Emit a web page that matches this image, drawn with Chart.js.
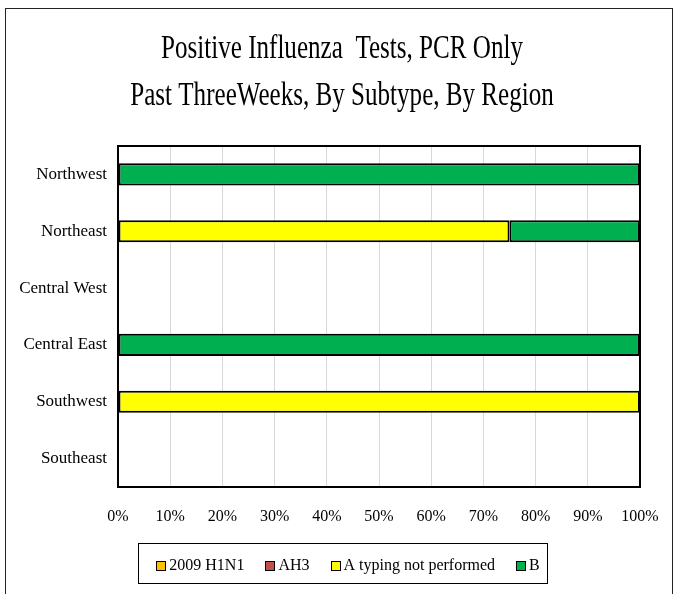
<!DOCTYPE html>
<html>
<head>
<meta charset="utf-8">
<script src="https://cdn.jsdelivr.net/npm/chart.js@4"></script>
<style>
  body { margin: 0; background: #fff; }
  #wrap { width: 673px; height: 594px; }
</style>
</head>
<body>
<div id="wrap"><canvas id="myChart" width="673" height="594"></canvas></div>
<script>
// chart data
const regions = ["Northwest", "Northeast", "Central West", "Central East", "Southwest", "Southeast"];
const h1n1 = [0, 0, 0, 0, 0, 0];
const ah3 = [0, 0, 0, 0, 0, 0];
const aNotTyped = [0, 75, 0, 0, 100, 0];
const typeB = [100, 25, 0, 100, 0, 0];
const xTicks = [0, 10, 20, 30, 40, 50, 60, 70, 80, 90, 100];
const titleLines = ["Positive Influenza  Tests, PCR Only", "Past ThreeWeeks, By Subtype, By Region"];

const serif = '"Liberation Serif", "Times New Roman", serif';

// title, frames and legend drawn by hand so they sit where the original has them
const extras = {
    id: 'extras',
    beforeDraw(chart) {
        const ctx = chart.ctx;
        ctx.save();
        ctx.fillStyle = '#fff';
        ctx.fillRect(0, 0, chart.width, chart.height);
        ctx.restore();
    },
    afterDraw(chart) {
        const ctx = chart.ctx;
        const a = chart.chartArea;
        ctx.save();

        // outer frame
        ctx.strokeStyle = '#222';
        ctx.lineWidth = 1;
        ctx.strokeRect(5.5, 8.5, 667, 600);

        // plot frame
        ctx.strokeStyle = '#000';
        ctx.lineWidth = 2;
        ctx.strokeRect(a.left, a.top, a.right - a.left, a.bottom - a.top);

        // title
        ctx.fillStyle = '#000';
        ctx.font = '33px ' + serif;
        ctx.textAlign = 'center';
        ctx.textBaseline = 'middle';
        titleLines.forEach(function (t, i) {
            ctx.save();
            ctx.translate(342, 49 + i * 47);
            ctx.scale(0.76, 1);
            ctx.fillText(t, 0, 0);
            ctx.restore();
        });

        // legend
        ctx.font = '16px ' + serif;
        ctx.textAlign = 'left';
        const box = 10, gap = 3, space = 21;
        const items = chart.data.datasets.map(function (ds) {
            return { label: ds.label, color: ds.backgroundColor, w: ctx.measureText(ds.label).width };
        });
        let total = 0;
        items.forEach(function (it, i) {
            total += box + gap + it.w + (i < items.length - 1 ? space : 0);
        });
        let x = 348 - total / 2;
        const y = 566;
        ctx.lineWidth = 1;
        ctx.strokeStyle = '#000';
        ctx.strokeRect(Math.round(x - 18) + 0.5, 543.5, Math.round(total + 26), 40);
        items.forEach(function (it) {
            ctx.fillStyle = it.color;
            ctx.fillRect(Math.round(x), y - 5, box, box);
            ctx.strokeStyle = '#000';
            ctx.strokeRect(Math.round(x) + 0.5, y - 4.5, box - 1, box - 1);
            ctx.fillStyle = '#000';
            ctx.fillText(it.label, x + box + gap, y);
            x += box + gap + it.w + space;
        });
        ctx.restore();
    }
};

function makeSet(label, data, color) {
    return {
        label: label,
        data: data,
        backgroundColor: color,
        borderColor: '#000',
        borderWidth: 2,
        borderSkipped: false,
        categoryPercentage: 1,
        barPercentage: 0.39
    };
}

new Chart(document.getElementById("myChart"), {
    type: 'bar',
    data: {
        labels: regions,
        datasets: [
            makeSet("2009 H1N1", h1n1, "#FFC000"),
            makeSet("AH3", ah3, "#C0504D"),
            makeSet("A typing not performed", aNotTyped, "#FFFF00"),
            makeSet("B", typeB, "#00B050")
        ]
    },
    options: {
        indexAxis: 'y',
        responsive: false,
        animation: false,
        layout: { padding: { left: 0, right: 33, top: 146, bottom: 0 } },
        plugins: {
            legend: { display: false },
            title: { display: false },
            tooltip: { enabled: false }
        },
        scales: {
            x: {
                stacked: true,
                min: 0,
                max: 100,
                afterBuildTicks: function (scale) {
                    scale.ticks = xTicks.map(function (v) { return { value: v }; });
                },
                afterFit: function (scale) {
                    scale.height = 107;
                    scale.paddingLeft = 0;
                    scale.paddingRight = 0;
                },
                grid: { color: '#d9d9d9', lineWidth: 1, drawTicks: false },
                border: { display: false },
                ticks: {
                    padding: 20,
                    color: '#000',
                    font: { family: serif, size: 16 },
                    callback: function (v) { return v + '%'; }
                }
            },
            y: {
                stacked: true,
                afterFit: function (scale) { scale.width = 118; },
                grid: { display: false, drawTicks: false },
                border: { display: false },
                ticks: {
                    padding: 11,
                    color: '#000',
                    font: { family: serif, size: 17 }
                }
            }
        }
    },
    plugins: [extras]
});
</script>
</body>
</html>
